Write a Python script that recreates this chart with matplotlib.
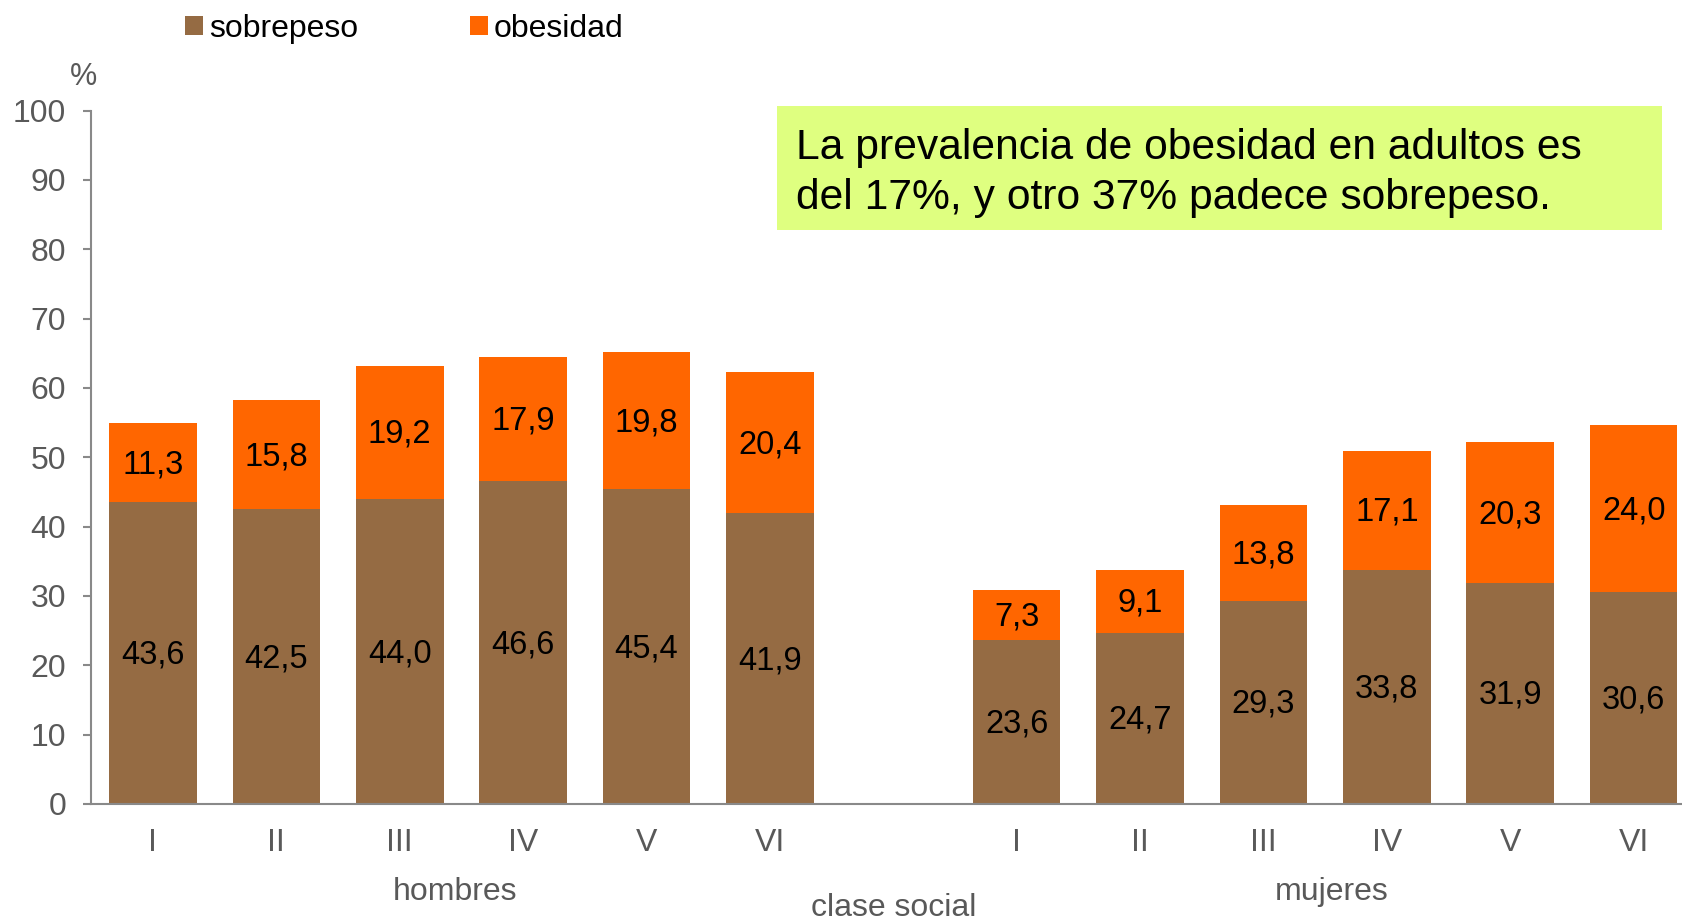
import numpy as np
import matplotlib.pyplot as plt
from matplotlib.patches import Rectangle

plt.rcParams['font.family'] = ['Liberation Sans', 'DejaVu Sans']

# datos
clases = ['I', 'II', 'III', 'IV', 'V', 'VI']
grupos = ['hombres', 'mujeres']
sobrepeso_h = [43.6, 42.5, 44.0, 46.6, 45.4, 41.9]
obesidad_h = [11.3, 15.8, 19.2, 17.9, 19.8, 20.4]
sobrepeso_m = [23.6, 24.7, 29.3, 33.8, 31.9, 30.6]
obesidad_m = [7.3, 9.1, 13.8, 17.1, 20.3, 24.0]
nota = 'La prevalencia de obesidad en adultos es\ndel 17%, y otro 37% padece sobrepeso.'

c_sob = '#956B43'
c_obe = '#FF6600'
gris = '#595959'

# hombres en 0..5, hueco en 6, mujeres en 7..12
x = np.array(list(range(6)) + list(range(7, 13)))
sob = np.array(sobrepeso_h + sobrepeso_m)
obe = np.array(obesidad_h + obesidad_m)

fig = plt.figure(figsize=(16.83, 9.22), dpi=100)
ax = fig.add_axes([0.0542, 0.128, 0.9458, 0.752])

w = 0.71
b1 = ax.bar(x, sob, width=w, color=c_sob, label='sobrepeso')
b2 = ax.bar(x, obe, width=w, bottom=sob, color=c_obe, label='obesidad')

for xi, s, o in zip(x, sob, obe):
    ax.text(xi, s / 2 - 0.3, f'{s:.1f}'.replace('.', ','), ha='center', va='center',
            fontsize=23.5, color='black')
    ax.text(xi, s + o / 2 - 0.3, f'{o:.1f}'.replace('.', ','), ha='center', va='center',
            fontsize=23.5, color='black')

ax.set_xlim(-0.5, 12.4)
ax.set_ylim(0, 100)
ax.set_yticks(range(0, 101, 10))
ax.set_xticks(x)
ax.set_xticklabels(clases + clases)

ax.tick_params(axis='y', labelsize=23, labelcolor=gris, color='#898989',
               length=6, width=1.5, pad=12)
ax.tick_params(axis='x', labelsize=23, labelcolor=gris, length=0, pad=17)

for s in ['top', 'right']:
    ax.spines[s].set_visible(False)
for s in ['left', 'bottom']:
    ax.spines[s].set_color('#898989')
    ax.spines[s].set_linewidth(1.5)

tr = ax.get_xaxis_transform()
ax.text(2.45, -0.127, grupos[0], transform=tr, ha='center', va='center',
        fontsize=23, color=gris)
ax.text(9.55, -0.127, grupos[1], transform=tr, ha='center', va='center',
        fontsize=23, color=gris)
ax.text(6, -0.15, 'clase social', transform=tr, ha='center', va='center',
        fontsize=23, color=gris)

fig.text(0.0497, 0.916, '%', ha='center', va='center', fontsize=22, color=gris)

fig.legend(handles=[b1, b2], loc='center left', bbox_to_anchor=(0.110, 0.969),
           ncol=2, frameon=False, fontsize=23, handlelength=0.55,
           handleheight=0.55, handletextpad=0.2, columnspacing=3.5,
           borderpad=0, borderaxespad=0)

fig.patches.append(Rectangle((0.4617, 0.7509), 0.5256, 0.1342,
                             transform=fig.transFigure, facecolor='#DFFF80',
                             edgecolor='none', zorder=5))
fig.text(0.473, 0.8125, nota, ha='left', va='center', fontsize=30.7,
         color='black', linespacing=1.3, zorder=6)

fig.savefig('out.png', dpi=100)
